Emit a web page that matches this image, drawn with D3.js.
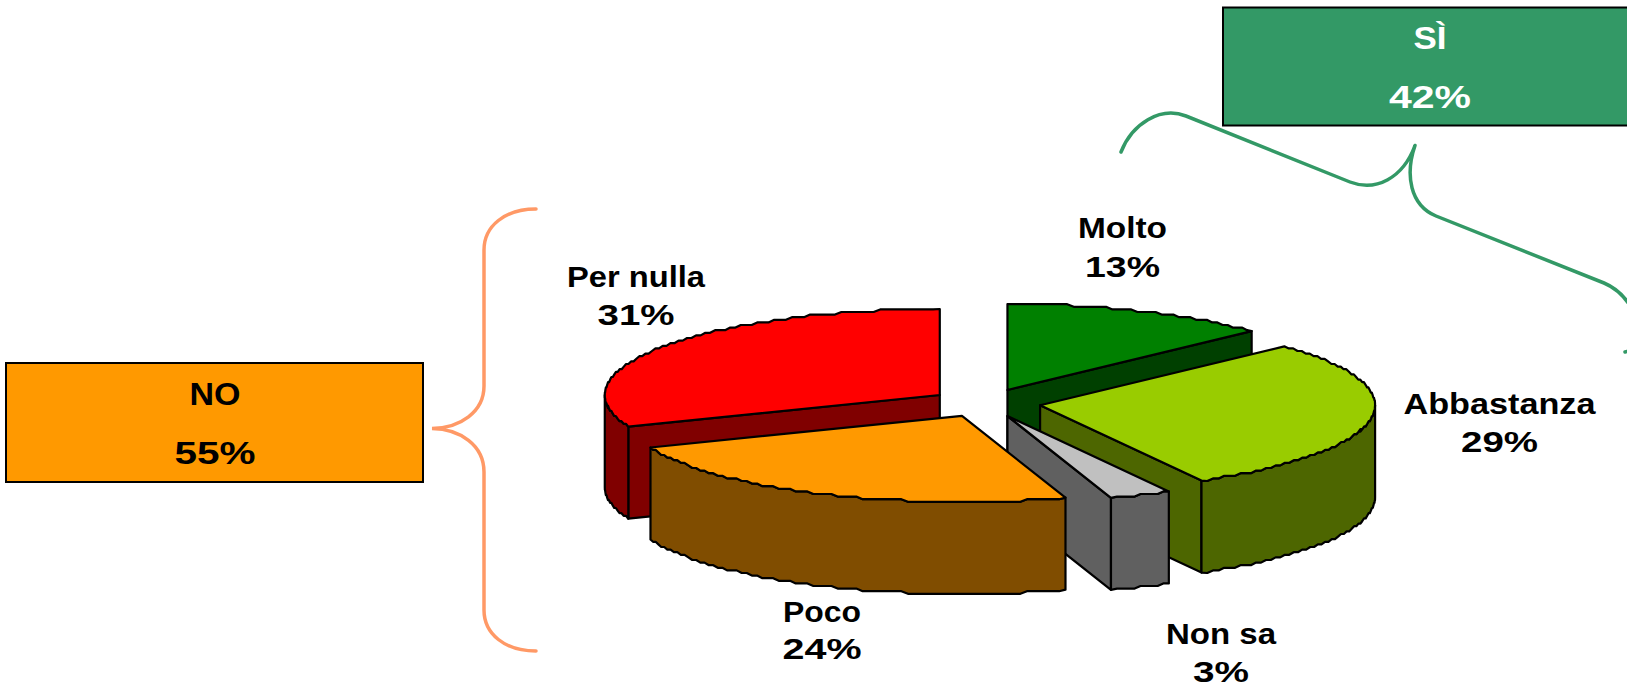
<!DOCTYPE html>
<html>
<head>
<meta charset="utf-8">
<script src="https://cdn.jsdelivr.net/npm/d3@7"></script>
<style>
html,body{margin:0;padding:0;background:#fff;overflow:hidden}
svg{display:block}
text{font-family:"Liberation Sans",Arial,sans-serif;font-weight:700;font-size:30px}
.box{font-size:32px}
</style>
</head>
<body>
<svg id="chart" width="1627" height="685"></svg>
<script>
// Data
const categories = ["Molto", "Abbastanza", "Non sa", "Poco", "Per nulla"];
const shares = [13, 29, 3, 24, 31];
const shareLabels = ["13%", "29%", "3%", "24%", "31%"];
const groupNames = ["SÌ", "NO"];
const groupShares = ["42%", "55%"];

// Styling / layout (separate from the values)
const topColors = ["#008000", "#99CC00", "#C0C0C0", "#FF9900", "#FF0000"];
const wallColors = ["#004000", "#4D6600", "#606060", "#804D00", "#800000"];
const paintOrder = [4, 0, 1, 2, 3];
const pieCx = 985.5, pieCy = 403, pieRx = 335, pieRy = 86, pieDepth = 92, explode = 0.165;
const jag = 2.6; // the reference's rims are stair-stepped by its low resolution
const labelCx = [1122.5, 1499.5, 1221, 822, 636];
const labelY = [238, 414, 644, 622, 287];
const labelGap = [39, 38, 37.5, 37, 38];
const nameWidths = [89, 192, 110, 78, 138];
const shareWidths = [75, 77, 56, 79, 77];

const svg = d3.select("#chart");
const x = d3.scaleLinear().domain([-1, 1]).range([pieCx - pieRx, pieCx + pieRx]);
const y = d3.scaleLinear().domain([-1, 1]).range([pieCy - pieRy, pieCy + pieRy]);
const pie = d3.pie().sort(null).value(d => d);
const arcs = pie(shares);
const line = d3.line();
const snap = v => Math.round(v / jag) * jag;

function sampleArc(a0, a1, ox, oy, dz) {
  const n = Math.max(2, Math.ceil(Math.abs(a1 - a0) / 0.02));
  return d3.range(n + 1).map(i => {
    const t = a0 + (a1 - a0) * i / n;
    const px = x(Math.sin(t) + ox), py = y(-Math.cos(t) + oy);
    return (i === 0 || i === n) ? [px, py + dz] : [px, snap(py) + dz];
  });
}

const slices = svg.append("g").attr("stroke", "#000").attr("stroke-width", 2.2).attr("stroke-linejoin", "round");

paintOrder.forEach(i => {
  const a = arcs[i], a0 = a.startAngle, a1 = a.endAngle, mid = (a0 + a1) / 2;
  const ox = explode * Math.sin(mid), oy = -explode * Math.cos(mid);
  const apex = [x(ox), y(oy)];
  const rim = t => [x(Math.sin(t) + ox), y(-Math.cos(t) + oy)];
  const down = p => [p[0], p[1] + pieDepth];
  const wall = wallColors[i];
  const inner = rim(mid);

  // a cut face shows when the slice lies above that edge
  const showsSide = p => {
    const dx = p[0] - apex[0], dy = p[1] - apex[1];
    if (Math.abs(dx) < 1) return false;
    return inner[1] < apex[1] + dy * (inner[0] - apex[0]) / dx;
  };
  [rim(a0), rim(a1)].filter(showsSide).forEach(p => {
    slices.append("path")
      .attr("d", line([apex, p, down(p), down(apex)]) + "Z")
      .attr("fill", wall);
  });

  // outer wall: the part of the rim on the near half of the ellipse
  const w0 = Math.max(a0, Math.PI / 2), w1 = Math.min(a1, 3 * Math.PI / 2);
  if (w1 > w0) {
    const up = sampleArc(w0, w1, ox, oy, 0);
    const lo = sampleArc(w1, w0, ox, oy, pieDepth);
    slices.append("path").attr("d", line(up.concat(lo)) + "Z").attr("fill", wall);
  }

  // top surface
  slices.append("path")
    .attr("d", line([apex].concat(sampleArc(a0, a1, ox, oy, 0))) + "Z")
    .attr("fill", topColors[i]);
});

// Slice labels
const labels = svg.append("g").attr("fill", "#000").attr("text-anchor", "middle");
categories.forEach((c, i) => {
  labels.append("text").text(c)
    .attr("x", labelCx[i]).attr("y", labelY[i])
    .attr("textLength", nameWidths[i]).attr("lengthAdjust", "spacingAndGlyphs");
  labels.append("text").text(shareLabels[i])
    .attr("x", labelCx[i]).attr("y", labelY[i] + labelGap[i])
    .attr("textLength", shareWidths[i]).attr("lengthAdjust", "spacingAndGlyphs");
});

// Group boxes
const boxX = [1223, 6], boxY = [7.5, 363], boxW = [417, 417], boxH = [118, 119];
const boxFill = ["#339966", "#FF9900"], boxText = ["#FFFFFF", "#000000"];
const boxCx = [1430, 215];
const boxLine1 = [49, 405], boxLine2 = [107.5, 464];
const nameW = [33, 51], pctW = [82, 81];
groupNames.forEach((g, i) => {
  svg.append("rect")
    .attr("x", boxX[i]).attr("y", boxY[i]).attr("width", boxW[i]).attr("height", boxH[i])
    .attr("fill", boxFill[i]).attr("stroke", "#000").attr("stroke-width", 2);
  svg.append("text").attr("class", "box").text(g).attr("text-anchor", "middle")
    .attr("x", boxCx[i]).attr("y", boxLine1[i]).attr("fill", boxText[i])
    .attr("textLength", nameW[i]).attr("lengthAdjust", "spacingAndGlyphs");
  svg.append("text").attr("class", "box").text(groupShares[i]).attr("text-anchor", "middle")
    .attr("x", boxCx[i]).attr("y", boxLine2[i]).attr("fill", boxText[i])
    .attr("textLength", pctW[i]).attr("lengthAdjust", "spacingAndGlyphs");
});

// Braces
svg.append("path")
  .attr("fill", "none").attr("stroke", "#FF9966").attr("stroke-width", 3.5).attr("stroke-linecap", "round")
  .attr("d", "M536,209 C505,209 484,226 484,250 L484,386 C484,412 460,428 432,428.5 C460,429 484,445 484,472 L484,610 C484,634 505,651 536,651");
svg.append("path")
  .attr("fill", "none").attr("stroke", "#339966").attr("stroke-width", 3.5).attr("stroke-linecap", "round").attr("stroke-linejoin", "round")
  .attr("d", "M1121,152 C1132,124 1160,106 1186,116 L1350,182 C1376,192 1403,178 1415,145.5 C1405,175 1410,205 1436,216 L1604,283 C1628,293 1640,320 1640,335 C1640,345 1632,350 1625,352");
</script>
</body>
</html>
